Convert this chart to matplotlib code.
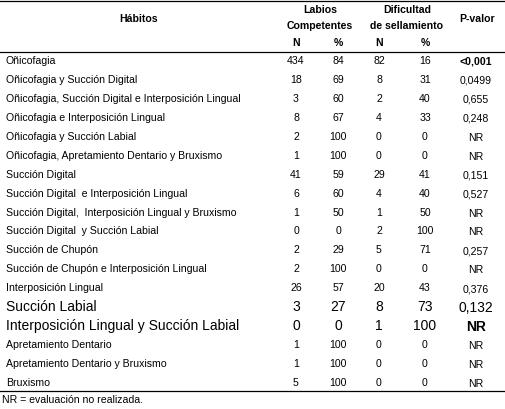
import matplotlib.pyplot as plt

habitos = ["Oñicofagia", "Oñicofagia y Succión Digital",
           "Oñicofagia, Succión Digital e Interposición Lingual",
           "Oñicofagia e Interposición Lingual", "Oñicofagia y Succión Labial",
           "Oñicofagia, Apretamiento Dentario y Bruxismo", "Succión Digital",
           "Succión Digital  e Interposición Lingual",
           "Succión Digital,  Interposición Lingual y Bruxismo",
           "Succión Digital  y Succión Labial", "Succión de Chupón",
           "Succión de Chupón e Interposición Lingual", "Interposición Lingual",
           "Succión Labial", "Interposición Lingual y Succión Labial",
           "Apretamiento Dentario", "Apretamiento Dentario y Bruxismo", "Bruxismo"]
lab_n = [434, 18, 3, 8, 2, 1, 41, 6, 1, 0, 2, 2, 26, 3, 0, 1, 1, 5]
lab_pct = [84, 69, 60, 67, 100, 100, 59, 60, 50, 0, 29, 100, 57, 27, 0, 100, 100, 100]
dif_n = [82, 8, 2, 4, 0, 0, 29, 4, 1, 2, 5, 0, 20, 8, 1, 0, 0, 0]
dif_pct = [16, 31, 40, 33, 0, 0, 41, 40, 50, 100, 71, 0, 43, 73, 100, 0, 0, 0]
p_valor = ["<0,001", "0,0499", "0,655", "0,248", "NR", "NR", "0,151", "0,527", "NR",
           "NR", "0,257", "NR", "0,376", "0,132", "NR", "NR", "NR", "NR"]
big_rows = [13, 14]

W, H = 505, 409
fig = plt.figure(figsize=(W / 100, H / 100), dpi=100)
ax = fig.add_axes([0, 0, 1, 1])
ax.set_xlim(0, W)
ax.set_ylim(H, 0)
ax.axis("off")
plt.rcParams['font.family'] = ['Liberation Sans', 'DejaVu Sans']

fs = 7.6
bold = dict(fontsize=fs, fontweight="bold", va="center", ha="center")
ax.text(139, 19, "Hábitos", **bold)
ax.text(320, 10, "Labios", **bold)
ax.text(320, 26, "Competentes", **bold)
ax.text(407, 10, "Dificultad", **bold)
ax.text(407, 26, "de sellamiento", **bold)
ax.text(477, 19, "P-valor", **bold)
for x, s in [(296, "N"), (338, "%"), (379, "N"), (425, "%")]:
    ax.text(x, 43, s, **bold)

for y in [1, 52, 391]:
    ax.plot([0, W], [y, y], color="black", lw=0.9)

y0, step = 61, 18.94
for i, h in enumerate(habitos):
    y = y0 + i * step
    f = 10 if i in big_rows else fs
    ax.text(6, y, h, fontsize=f, va="center", ha="left")
    for x, v in [(296, lab_n[i]), (338, lab_pct[i]), (379, dif_n[i]), (425, dif_pct[i])]:
        ax.text(x, y, str(v), fontsize=f, va="center", ha="center")
    w = "bold" if p_valor[i] == "<0,001" or (i in big_rows and p_valor[i] == "NR") else "normal"
    ax.text(476, y + 1, p_valor[i], fontsize=f, va="center", ha="center", fontweight=w)

ax.text(2, 400, "NR = evaluación no realizada.", fontsize=fs, va="center", ha="left")
fig.savefig("out.png", dpi=100)
